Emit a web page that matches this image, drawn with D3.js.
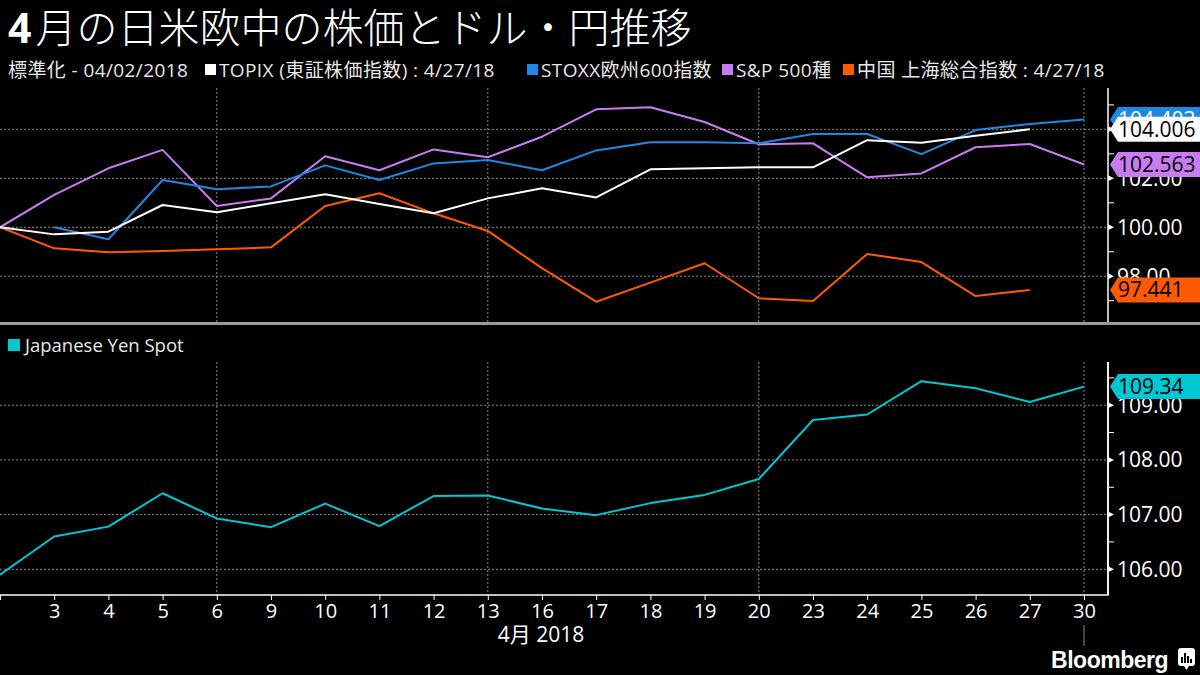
<!DOCTYPE html>
<html>
<head>
<meta charset="utf-8">
<script src="https://cdn.jsdelivr.net/npm/d3@7.9.0/dist/d3.min.js"></script>
<style>
  html, body { margin: 0; padding: 0; background: #000; }
  svg { display: block; font-family: "Open Sans", "Noto Sans CJK JP", sans-serif; }
</style>
</head>
<body>
<svg id="chart" width="1200" height="675"></svg>
<script>
// Trading days in April 2018
const dates = ["2", "3", "4", "5", "6", "9", "10", "11", "12", "13", "16", "17", "18", "19", "20", "23", "24", "25", "26", "27", "30"];

// Normalized to 04/02/2018 = 100
const topix    = [100, 99.71, 99.82, 100.91, 100.61, 100.98, 101.35, 100.95, 100.57, 101.18, 101.59, 101.22, 102.37, 102.41, 102.45, 102.45, 103.56, 103.45, 103.74, 104.006, null];
const stoxx    = [null, 100, 99.51, 101.93, 101.55, 101.67, 102.53, 101.93, 102.61, 102.75, 102.33, 103.14, 103.47, 103.47, 103.43, 103.81, 103.81, 102.99, 103.97, 104.22, 104.403];
const spx      = [100, 101.32, 102.41, 103.16, 100.87, 101.18, 102.9, 102.33, 103.18, 102.86, 103.7, 104.82, 104.9, 104.3, 103.39, 103.43, 102.04, 102.2, 103.27, 103.4, 102.563];
const shanghai = [100, 99.14, 98.98, 99.03, 99.10, 99.18, 100.87, 101.39, 100.57, 99.85, 98.33, 96.96, 97.74, 98.53, 97.10, 96.99, 98.91, 98.58, 97.19, 97.441, null];

// USD/JPY spot
const yen = [105.9, 106.60, 106.78, 107.39, 106.93, 106.77, 107.20, 106.79, 107.34, 107.35, 107.11, 106.99, 107.21, 107.36, 107.65, 108.73, 108.83, 109.44, 109.31, 109.06, 109.34];

const topTicks = [98, 100, 102, 104];
const topMinor = [97, 99, 101, 103, 105];
const yenTicks = [106, 107, 108, 109];
const yenMinor = [106.5, 107.5, 108.5, 109.5];
const gridDates = ["6", "13", "20", "30"];

const title = "月の日米欧中の株価とドル・円推移";
const legendNames = ["TOPIX (東証株価指数) : 4/27/18", "STOXX欧州600指数", "S&P 500種", "中国 上海総合指数 : 4/27/18"];

const colors = { topix: "#ffffff", stoxx: "#1e88e5", spx: "#c97cf2", shanghai: "#ff5a00", yen: "#00c8d2" };

const svg = d3.select("#chart");
const axisX = 1108;

const x = d3.scalePoint().domain(dates).range([0, 1084]);
const yTop = d3.scaleLinear().domain([96.13, 105.69]).range([322, 88]);
const yBot = d3.scaleLinear().domain([105.53, 109.79]).range([595, 362]);

// title
const t = svg.append("text").attr("x", 8).attr("y", 43).attr("fill", "#fff").attr("font-size", 41);
t.append("tspan").attr("font-weight", "bold").attr("font-family", "Open Sans").text("4");
t.append("tspan").attr("font-family", "Noto Sans CJK JP").attr("font-weight", 300).attr("dx", 4).text(title);

// legend row
const legFont = 19;
svg.append("text").attr("x", 8).attr("y", 77).attr("fill", "#e8e8e8").attr("font-size", legFont)
  .attr("letter-spacing", 0.4).text("標準化 - 04/02/2018");
const legendX = [205, 527, 722, 843];
const legendCols = [colors.topix, colors.stoxx, colors.spx, colors.shanghai];
legendNames.forEach((name, i) => {
  svg.append("rect").attr("x", legendX[i]).attr("y", 64).attr("width", 11).attr("height", 11).attr("fill", legendCols[i]);
  svg.append("text").attr("x", legendX[i] + 14).attr("y", 77).attr("fill", "#e8e8e8").attr("font-size", legFont)
    .attr("letter-spacing", 0.4).text(name);
});

// grid lines
function hGrid(scale, vals, x2) {
  svg.append("g").selectAll("line").data(vals).enter().append("line")
    .attr("x1", 0).attr("x2", x2).attr("y1", d => scale(d)).attr("y2", d => scale(d))
    .attr("stroke", "#8a8a8a").attr("stroke-width", 1).attr("stroke-dasharray", "2,2");
}
hGrid(yTop, topTicks, axisX);
hGrid(yBot, yenTicks, axisX);
svg.append("g").selectAll("line").data(gridDates).enter().append("line")
  .attr("x1", d => x(d)).attr("x2", d => x(d)).attr("y1", 88).attr("y2", 322)
  .attr("stroke", "#8a8a8a").attr("stroke-dasharray", "2,2");
svg.append("g").selectAll("line").data(gridDates).enter().append("line")
  .attr("x1", d => x(d)).attr("x2", d => x(d)).attr("y1", 362).attr("y2", 595)
  .attr("stroke", "#8a8a8a").attr("stroke-dasharray", "2,2");

// lines
function drawLine(vals, scale, color) {
  const pts = vals.map((v, i) => [dates[i], v]).filter(d => d[1] !== null);
  const line = d3.line().x(d => x(d[0])).y(d => scale(d[1]));
  svg.append("path").datum(pts).attr("d", line).attr("fill", "none")
    .attr("stroke", color).attr("stroke-width", 2).attr("stroke-linejoin", "round");
}
drawLine(shanghai, yTop, colors.shanghai);
drawLine(spx, yTop, colors.spx);
drawLine(stoxx, yTop, colors.stoxx);
drawLine(topix, yTop, colors.topix);
drawLine(yen, yBot, colors.yen);

// right axes
function rightAxis(scale, major, minor, y1, y2, fmt) {
  const g = svg.append("g");
  g.append("line").attr("x1", axisX).attr("x2", axisX).attr("y1", y1).attr("y2", y2)
    .attr("stroke", "#fff").attr("stroke-width", 1.5);
  g.selectAll(".mn").data(minor.filter(d => scale(d) > y1 && scale(d) < y2)).enter().append("line")
    .attr("x1", axisX).attr("x2", axisX + 6).attr("y1", d => scale(d)).attr("y2", d => scale(d))
    .attr("stroke", "#fff");
  g.selectAll(".mj").data(major).enter().append("path")
    .attr("d", d => `M${axisX},${scale(d) - 3}L${axisX + 6},${scale(d)}L${axisX},${scale(d) + 3}Z`)
    .attr("fill", "#fff");
  g.selectAll("text").data(major).enter().append("text")
    .attr("x", axisX + 9).attr("y", d => scale(d)).attr("dy", "0.36em")
    .attr("fill", "#fff").attr("font-size", 21).text(d => fmt(d));
}
rightAxis(yTop, topTicks, topMinor, 88, 322, d3.format(".2f"));
rightAxis(yBot, yenTicks, yenMinor, 362, 595, d3.format(".2f"));

// value tags
function tag(v, scale, color, textColor, fmt) {
  const cy = scale(v);
  const g = svg.append("g");
  g.append("path")
    .attr("d", `M${axisX + 2},${cy}L${axisX + 10},${cy - 12.5}L1200,${cy - 12.5}L1200,${cy + 12.5}L${axisX + 10},${cy + 12.5}Z`)
    .attr("fill", color);
  g.append("text").attr("x", axisX + 10).attr("y", cy).attr("dy", "0.36em")
    .attr("fill", textColor).attr("font-size", 21).text(fmt(v));
}
const f3 = d3.format(".3f");
tag(stoxx[stoxx.length - 1], yTop, colors.stoxx, "#fff", f3);
tag(topix[19], yTop, colors.topix, "#000", f3);
tag(spx[spx.length - 1], yTop, colors.spx, "#000", f3);
tag(shanghai[19], yTop, colors.shanghai, "#000", f3);
tag(yen[yen.length - 1], yBot, colors.yen, "#000", d3.format(".2f"));

// panel separator
svg.append("rect").attr("x", 0).attr("y", 322).attr("width", 1200).attr("height", 3).attr("fill", "#9a9a9a");

// bottom legend
svg.append("rect").attr("x", 8).attr("y", 339).attr("width", 12).attr("height", 12).attr("fill", colors.yen);
svg.append("text").attr("x", 25).attr("y", 352).attr("fill", "#e8e8e8").attr("font-size", 18.5).text("Japanese Yen Spot");

// x axis
const xAxis = d3.axisBottom(x).tickSize(5).tickFormat((d, i) => i === 0 ? "" : d);
const gx = svg.append("g").attr("transform", "translate(0,595)").call(xAxis);
gx.select(".domain").attr("d", `M0,0H${axisX}V-233`).attr("stroke", "#fff").attr("stroke-width", 1.5);
gx.selectAll(".tick line").attr("stroke", "#fff");
gx.selectAll(".tick text").attr("fill", "#fff").attr("font-size", 20).attr("font-family", "Open Sans").attr("y", 9);
svg.append("line").attr("x1", x("30")).attr("x2", x("30")).attr("y1", 625).attr("y2", 646).attr("stroke", "#888");
svg.append("text").attr("x", 541).attr("y", 642).attr("text-anchor", "middle").attr("fill", "#fff")
  .attr("font-size", 21).text("4月 2018");

// Bloomberg mark
svg.append("text").attr("x", 1168).attr("y", 668).attr("text-anchor", "end").attr("fill", "#fff")
  .attr("font-family", "Liberation Sans").attr("font-weight", "bold").attr("font-size", 23).attr("letter-spacing", -0.5).text("Bloomberg");
svg.append("rect").attr("x", 1178).attr("y", 648).attr("width", 17).attr("height", 18).attr("rx", 3).attr("fill", "#fff");
svg.append("path").attr("d", "M1184,666L1186.5,670L1189,666Z").attr("fill", "#fff");
[[1181, 6], [1184, 10], [1187, 7], [1190, 4]].forEach(([bx, h]) => {
  svg.append("rect").attr("x", bx).attr("y", 663 - h).attr("width", 2).attr("height", h).attr("fill", "#000");
});
</script>
</body>
</html>
